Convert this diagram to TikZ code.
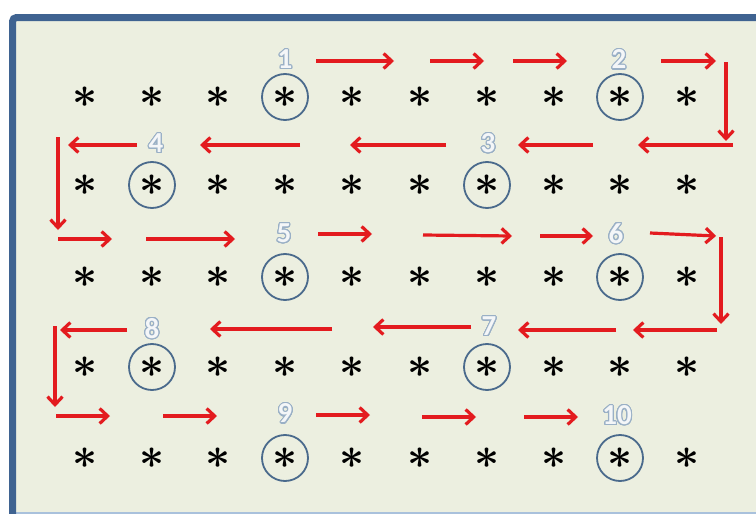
\documentclass[tikz,border=0pt]{standalone}
\usepackage{fontspec}
\usepackage{graphicx}
\usepackage{contour}
\usetikzlibrary{arrows.meta}
\newfontfamily\numfont{Carlito}
\definecolor{framec}{HTML}{3F6391}
\definecolor{bgc}{HTML}{ECEFE0}
\definecolor{arrc}{HTML}{E31B1F}
\definecolor{circc}{HTML}{4A6A8C}
\definecolor{numc}{HTML}{9AB0C6}
\definecolor{numfill}{HTML}{F4F6F8}
\definecolor{lowc}{HTML}{A9C1DC}
\contourlength{1.1pt}
\contournumber{24}
\newcommand{\bigast}{\scalebox{2.1}{\fontsize{20}{20}\selectfont\boldmath$\ast$}}
\tikzset{
  astr/.style={inner sep=0pt},
  ring/.style={draw=circc, line width=1.8pt, circle, inner sep=0pt, minimum size=46pt},
  numlab/.style={inner sep=0pt, font=\numfont\bfseries\fontsize{29}{29}\selectfont},
  arr/.style={draw=arrc, line width=3.2pt, -{Straight Barb[length=8pt,width=15pt]}}
}
\newcommand{\numtxt}[1]{\textcolor{numfill}{\contour{numc}{#1}}}
\begin{document}
\begin{tikzpicture}[x=1pt,y=-1pt]
\useasboundingbox (0,0) rectangle (756,514);
\clip (0,0) rectangle (756,514);
% frame
\fill[bgc] (12.5,17.5) rectangle (780,540);
\draw[lowc, line width=2pt] (16,512.5) -- (780,512.5);
\draw[framec, line width=7pt, rounded corners=4pt] (12.5,540) -- (12.5,17.5) -- (780,17.5);
% asterisk grid
\foreach \r/\y in {1/97,2/185,3/277,4/367,5/458}{
  \foreach \c/\x in {1/85,2/152,3/218.5,4/285,5/352,6/420,7/487,8/554,9/620,10/687}{
    \node[astr] (s\r-\c) at (\x,\y) {\bigast};
  }
}
% rings
\foreach \r/\c in {1/4,1/9,2/2,2/7,3/4,3/9,4/2,4/7,5/4,5/9}{
  \node[ring] (c\r-\c) at (s\r-\c) {};
}
% numbers
\foreach \t/\x/\y in {1/285/60,2/619/60,3/488/144,4/156/144,5/284/234,6/616/234,7/489/327,8/152/329,9/285/414,10/617/416}{
  \node[numlab] (n\t) at (\x,\y) {\numtxt{\t}};
}
% arrows
\foreach \n/\sx/\sy/\ex/\ey in {
  1/316/61/394/61, 2/430/61/484/61, 3/513/61/567/61, 4/661/61/716/61,
  5/726/62/726/141,
  6/733/145/638/145, 7/593/145/518/145, 8/446/145/350/145, 9/300/145/200/145, 10/137/145/68/145,
  11/58/137/58/230,
  12/58/239/112/239, 13/146/239/235/239, 14/318/234/372/234, 15/423/235/512/236, 16/540/236/593/236, 17/650/233/716/236,
  18/721/237/721/324,
  19/717/330/633/330, 20/616/330/518/330, 21/471/327/373/327, 22/332/329/210/329, 23/127/330/60/330,
  24/55/326/55/407,
  25/56/416/110/416, 26/163/416/217/416, 27/316/415/370/415, 28/422/417/476/417, 29/524/417/578/417}{
  \coordinate (a\n s) at (\sx,\sy);
  \coordinate (a\n e) at (\ex,\ey);
  \draw[arr] (a\n s) -- (a\n e);
}
\end{tikzpicture}
\end{document}
